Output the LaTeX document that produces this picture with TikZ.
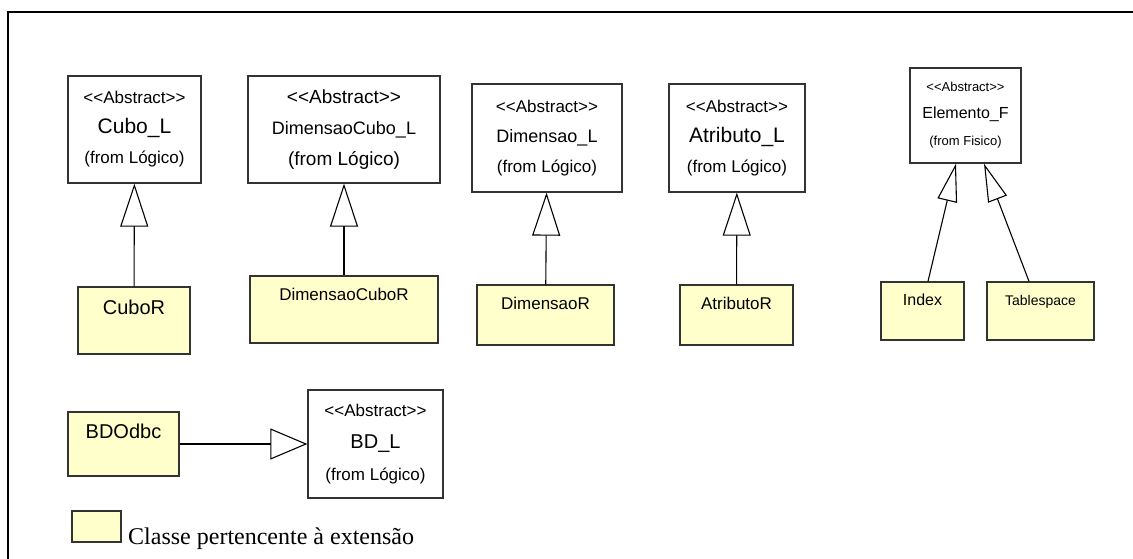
\documentclass[tikz,border=0pt]{standalone}
\usepackage{fontspec}
\setmainfont{Liberation Sans}
\newfontfamily\legendafont{Liberation Serif}
\usetikzlibrary{arrows.meta}
\definecolor{amarelo}{HTML}{FFFFCC}
\definecolor{borda}{HTML}{333333}
\newcommand\abstrato{<{}<Abstract>{}>}
\begin{document}
\begin{tikzpicture}[x=1pt,y=-1pt,
    abstrata/.style={draw=borda, line width=1.3pt, fill=white, align=center,
      font=\fontsize{17}{30}\selectfont},
    concreta/.style={draw=borda, line width=1.3pt, fill=amarelo,
      text height=12pt, text depth=24pt, font=\fontsize{17}{20}\selectfont},
    heranca/.style={line width=1.1pt, -{Triangle[open, length=43pt, width=28pt]}}]
  \useasboundingbox (0,0) rectangle (1133,559);
  \draw [line width=2pt] (8,559) -- (8,12) -- (1133,12);

  \node [abstrata, minimum width=133, minimum height=107] (cubol) at (134.5,129.5)
    {\abstrato\\ {\fontsize{21}{30}\selectfont Cubo\_L}\\ (from Lógico)};
  \node [abstrata, minimum width=192, minimum height=107, font=\fontsize{19}{31}\selectfont] (dimcubol) at (344,129.5)
    {\abstrato\\ {\fontsize{18}{31}\selectfont DimensaoCubo\_L}\\ (from Lógico)};
  \node [abstrata, minimum width=150, minimum height=108] (diml) at (547,138)
    {\abstrato\\ {\fontsize{18}{30}\selectfont Dimensao\_L}\\ (from Lógico)};
  \node [abstrata, minimum width=136, minimum height=108] (atril) at (737,138)
    {\abstrato\\ {\fontsize{21}{30}\selectfont Atributo\_L}\\ (from Lógico)};
  \node [abstrata, minimum width=111, minimum height=95, font=\fontsize{13}{27}\selectfont] (elemf) at (965.5,115.5)
    {\abstrato\\ {\fontsize{16}{27}\selectfont Elemento\_F}\\ (from Fisico)};
  \node [abstrata, minimum width=135, minimum height=108, font=\fontsize{17}{32}\selectfont] (bdl) at (375.5,444)
    {\abstrato\\ {\fontsize{20}{32}\selectfont BD\_L}\\ (from Lógico)};

  \node [concreta, minimum width=112, minimum height=67, font=\fontsize{20}{22}\selectfont] (cubor) at (134,320.5) {CuboR};
  \node [concreta, minimum width=188, minimum height=67, text depth=30pt] (dimcubor) at (344,309.5) {DimensaoCuboR};
  \node [concreta, minimum width=137, minimum height=60] (dimr) at (545.5,315) {DimensaoR};
  \node [concreta, minimum width=113, minimum height=60] (atrir) at (736.5,315) {AtributoR};
  \node [concreta, minimum width=83, minimum height=58, font=\fontsize{16}{18}\selectfont] (index) at (922.5,311) {Index};
  \node [concreta, minimum width=107, minimum height=58, font=\fontsize{14}{16}\selectfont] (tables) at (1040.5,311) {Tablespace};
  \node [concreta, minimum width=111, minimum height=64, font=\fontsize{20}{22}\selectfont] (bdodbc) at (123.5,444) {BDOdbc};

  \draw [heranca] (cubor) -- (cubol);
  \draw [heranca] (dimcubor) -- (dimcubol);
  \draw [heranca] (dimr) -- (diml);
  \draw [heranca] (atrir) -- (atril);
  \draw [heranca, -{Triangle[open, length=38pt, width=20pt]}] ([xshift=5.5pt]index.north) -- ([xshift=-9.5pt]elemf.south);
  \draw [heranca, -{Triangle[open, length=38pt, width=20pt]}] ([xshift=-11.5pt]tables.north) -- ([xshift=18.5pt]elemf.south);
  \draw [heranca, -{Triangle[open, length=37pt, width=31pt]}] (bdodbc) -- (bdl);

  \node [draw=borda, line width=1.3pt, fill=amarelo, minimum width=49, minimum height=31] (legcaixa) at (96.5,526.5) {};
  \node [anchor=base west, inner sep=0pt, font=\legendafont\fontsize{24}{26}\selectfont] (legtexto) at (128,544)
    {Classe pertencente à extensão};
\end{tikzpicture}
\end{document}
